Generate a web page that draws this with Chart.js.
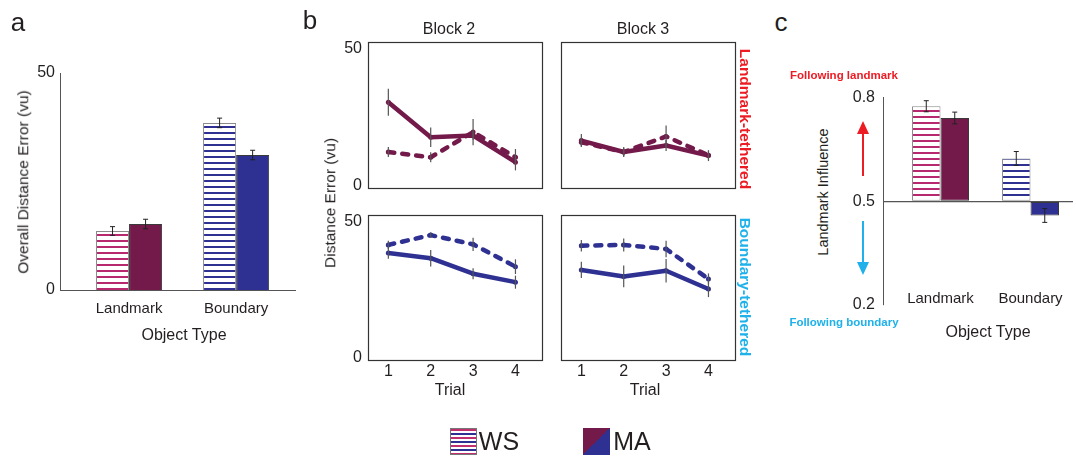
<!DOCTYPE html>
<html>
<head>
<meta charset="utf-8">
<script src="https://cdn.jsdelivr.net/npm/chart.js@4.4.0/dist/chart.umd.min.js"></script>
<style>
html, body { margin: 0; padding: 0; background: #fff; }
#fig { position: relative; width: 1076px; height: 458px; overflow: hidden; background: #fff;
       font-family: "Liberation Sans", Arial, sans-serif; color: #231f20; }
#fig canvas { position: absolute; }
.t { position: absolute; white-space: nowrap; line-height: 1; transform: translate(-50%, -50%); }
.up { transform: translate(-50%, -50%) rotate(-90deg); }
.down { transform: translate(-50%, -50%) rotate(90deg); font-weight: bold; }
.note { font-weight: bold; font-size: 11.5px; }
</style>
</head>
<body>
<div id="fig">
  <div class="t" style="left:18px;top:22px;font-size:26px">a</div>
  <div class="t" style="left:310px;top:20px;font-size:26px">b</div>
  <div class="t" style="left:781px;top:22px;font-size:26px">c</div>

  <div class="t up" style="left:23px;top:182px;font-size:15.5px">Overall Distance Error (vu)</div>
  <div class="t" style="left:184px;top:335px;font-size:16px">Object Type</div>

  <div class="t" style="left:449px;top:29px;font-size:16px">Block 2</div>
  <div class="t" style="left:643px;top:29px;font-size:16px">Block 3</div>
  <div class="t up" style="left:330px;top:203px;font-size:15.5px">Distance Error (vu)</div>
  <div class="t" style="left:450px;top:390px;font-size:16px">Trial</div>
  <div class="t" style="left:645px;top:390px;font-size:16px">Trial</div>
  <div class="t down" style="left:745px;top:119px;font-size:15.5px;color:#ed1c24">Landmark-tethered</div>
  <div class="t down" style="left:745px;top:287px;font-size:15.5px;color:#1eb1ea">Boundary-tethered</div>

  <div class="t up" style="left:823px;top:192px;font-size:14.5px">Landmark Influence</div>
  <div class="t note" style="left:844px;top:76px;color:#ed1c24">Following landmark</div>
  <div class="t note" style="left:844px;top:323px;color:#1eb1ea">Following boundary</div>
  <div class="t" style="left:988px;top:332px;font-size:16px">Object Type</div>

  <svg width="1076" height="458" style="position:absolute;left:0;top:0;pointer-events:none">
    <line x1="863" y1="176" x2="863" y2="132" stroke="#ed1c24" stroke-width="2"/>
    <polygon points="857,134 869,134 863,121" fill="#ed1c24"/>
    <line x1="863" y1="221" x2="863" y2="263" stroke="#1eb1ea" stroke-width="2"/>
    <polygon points="857,262 869,262 863,275" fill="#1eb1ea"/>
  </svg>

  <div style="position:absolute;left:450px;top:428px;width:25px;height:25px;border:1px solid #777;
       background:repeating-linear-gradient(to bottom,#c0306e 0 2px,#fff 2px 4px,#2e3192 4px 6px,#fff 6px 8px)"></div>
  <div class="t" style="left:499px;top:441px;font-size:25px">WS</div>
  <div style="position:absolute;left:583px;top:428px;width:27px;height:27px;
       background:linear-gradient(to bottom right,#731a4b 50%,#2e3192 50%)"></div>
  <div class="t" style="left:632px;top:441px;font-size:25px">MA</div>
</div>

<script>
// panel a - overall distance error
const objectTypes = ['Landmark', 'Boundary'];
const typePositions = [1, 2];
const distWS = [13.6, 38.5];
const distWS_se = [1.0, 1.1];
const distMA = [15.2, 31.1];
const distMA_se = [1.1, 1.1];
const distTicks = [0, 50];

// panel b - distance error per trial
const trials = [1, 2, 3, 4];
const trialTicks = [0, 50];
const b2LandWS = [12.2, 10.3, 19.5, 10.3];
const b2LandWS_se = [1.8, 1.8, 4.8, 3.0];
const b2LandMA = [30.4, 17.6, 18.2, 8.5];
const b2LandMA_se = [4.9, 3.6, 1.5, 3.0];
const b3LandWS = [15.8, 12.2, 17.9, 11.0];
const b3LandWS_se = [1.5, 1.5, 4.0, 1.5];
const b3LandMA = [16.4, 12.2, 14.6, 10.9];
const b3LandMA_se = [2.4, 1.8, 2.0, 2.0];
const b2BoundWS = [41.4, 45.0, 41.6, 33.4];
const b2BoundWS_se = [1.5, 1.0, 2.4, 2.7];
const b2BoundMA = [38.4, 36.5, 30.8, 27.7];
const b2BoundMA_se = [2.1, 3.0, 2.0, 2.4];
const b3BoundWS = [41.1, 41.4, 39.9, 28.9];
const b3BoundWS_se = [2.1, 2.4, 3.0, 2.0];
const b3BoundMA = [32.2, 29.8, 31.9, 25.2];
const b3BoundMA_se = [3.0, 4.0, 4.3, 3.0];

// panel c - landmark influence
const influenceWS = [0.775, 0.624];
const influenceWS_se = [0.016, 0.02];
const influenceMA = [0.741, 0.459];
const influenceMA_se = [0.017, 0.02];
const influenceTicks = [0.2, 0.5, 0.8];

const MAROON = '#731a4b', BLUE = '#2e3192', PINK = '#b8286f', INK = '#231f20';
Chart.defaults.font.family = '"Liberation Sans", Arial, sans-serif';
Chart.defaults.color = INK;

const fig = document.getElementById('fig');

function place(area, m) {
  // area = [left, top, width, height] of the plot box, m = [L, T, R, B] room around it
  const c = document.createElement('canvas');
  const w = area[2] + m[0] + m[2], h = area[3] + m[1] + m[3];
  c.width = w; c.height = h;
  c.style.cssText = `left:${area[0] - m[0]}px;top:${area[1] - m[1]}px;width:${w}px;height:${h}px`;
  fig.insertBefore(c, fig.firstChild);
  return c;
}

function stripes(color) {
  const c = document.createElement('canvas');
  c.width = 8; c.height = 6;
  const g = c.getContext('2d');
  g.fillStyle = '#fff'; g.fillRect(0, 0, 8, 6);
  g.fillStyle = color; g.fillRect(0, 0, 8, 2);
  return g.createPattern(c, 'repeat');
}

const pts = (xs, ys) => xs.map((x, i) => ({ x: x, y: ys[i] }));

const errorBars = {
  id: 'errorBars',
  afterDatasetsDraw(chart, args, opts) {
    const ctx = chart.ctx, y = chart.scales.y;
    ctx.save();
    ctx.strokeStyle = opts.color || '#222';
    ctx.lineWidth = opts.width || 1;
    chart.data.datasets.forEach((ds, i) => {
      if (!ds.errors) return;
      chart.getDatasetMeta(i).data.forEach((el, j) => {
        const v = ds.data[j].y, e = ds.errors[j];
        const y1 = y.getPixelForValue(v - e), y2 = y.getPixelForValue(v + e);
        ctx.beginPath();
        ctx.moveTo(el.x, y1); ctx.lineTo(el.x, y2);
        if (opts.cap) {
          ctx.moveTo(el.x - opts.cap, y1); ctx.lineTo(el.x + opts.cap, y1);
          ctx.moveTo(el.x - opts.cap, y2); ctx.lineTo(el.x + opts.cap, y2);
        }
        ctx.stroke();
      });
    });
    ctx.restore();
  }
};

const frame = {
  id: 'frame',
  afterDraw(chart) {
    const a = chart.chartArea, ctx = chart.ctx;
    ctx.save();
    ctx.strokeStyle = '#333';
    ctx.lineWidth = 1.2;
    ctx.strokeRect(Math.round(a.left) + 0.5, Math.round(a.top) + 0.5,
                   Math.round(a.right - a.left) - 1, Math.round(a.bottom - a.top) - 1);
    ctx.restore();
  }
};

const noGrid = { display: false, drawTicks: false };
const axisLine = { display: true, color: '#555', width: 1 };

// ---- panel a
new Chart(place([60, 73, 235, 217], [60, 73, 5, 70]), {
  type: 'bar',
  data: {
    datasets: [
      { label: 'WS', data: pts(typePositions, distWS), errors: distWS_se,
        backgroundColor: [stripes(PINK), stripes(BLUE)], borderColor: '#8a8a8a', borderWidth: 1 },
      { label: 'MA', data: pts(typePositions, distMA), errors: distMA_se,
        backgroundColor: [MAROON, BLUE], borderColor: '#3a3a3a', borderWidth: 1 }
    ]
  },
  options: {
    responsive: false, animation: false,
    layout: { padding: { left: 0, top: 73, right: 5, bottom: 0 } },
    datasets: { bar: { categoryPercentage: 0.617, barPercentage: 1 } },
    plugins: { legend: { display: false }, tooltip: { enabled: false }, errorBars: { cap: 2.5, color: '#222' } },
    scales: {
      x: { type: 'linear', min: 0.355, max: 2.55, offset: false,
           afterBuildTicks: s => { s.ticks = typePositions.map(v => ({ value: v })); },
           ticks: { callback: v => objectTypes[typePositions.indexOf(v)], padding: 10, font: { size: 15 } },
           grid: noGrid, border: axisLine, afterFit: s => { s.height = 70; } },
      y: { min: 0, max: 50,
           afterBuildTicks: s => { s.ticks = distTicks.map(v => ({ value: v })); },
           ticks: { padding: 5, font: { size: 16 } },
           grid: noGrid, border: axisLine, afterFit: s => { s.width = 60; } }
    }
  },
  plugins: [errorBars]
});

// ---- panel b
function trialChart(area, showX, showY, ws, wsSe, ma, maSe, color) {
  const m = [40, 18, 5, showX ? 24 : 18];
  new Chart(place(area, m), {
    type: 'line',
    data: {
      datasets: [
        { label: 'MA', data: pts(trials, ma), errors: maSe, borderColor: color, backgroundColor: color,
          borderWidth: 4.5, borderJoinStyle: 'round', pointRadius: 2.5, pointBorderWidth: 0 },
        { label: 'WS', data: pts(trials, ws), errors: wsSe, borderColor: color, backgroundColor: color,
          borderWidth: 4.5, borderDash: [6, 8], borderCapStyle: 'round', borderJoinStyle: 'round',
          pointRadius: 2.5, pointBorderWidth: 0 }
      ]
    },
    options: {
      responsive: false, animation: false,
      layout: { padding: { left: 0, top: m[1], right: m[2], bottom: 0 } },
      plugins: { legend: { display: false }, tooltip: { enabled: false }, errorBars: { cap: 0, color: '#555', width: 1.2 } },
      scales: {
        x: { type: 'linear', min: 0.52, max: 4.65, display: showX,
             afterBuildTicks: s => { s.ticks = trials.map(v => ({ value: v })); },
             ticks: { padding: 1, font: { size: 16 } },
             grid: noGrid, border: { display: false }, afterFit: s => { s.height = m[3]; } },
        y: { min: -1.3, max: 52.4, display: showY,
             afterBuildTicks: s => { s.ticks = trialTicks.map(v => ({ value: v })); },
             ticks: { padding: 6, font: { size: 16 } },
             grid: noGrid, border: { display: false }, afterFit: s => { s.width = m[0]; } }
      }
    },
    plugins: [frame, errorBars]
  });
}
trialChart([368, 42, 175, 147], false, true, b2LandWS, b2LandWS_se, b2LandMA, b2LandMA_se, MAROON);
trialChart([561, 42, 175, 147], false, false, b3LandWS, b3LandWS_se, b3LandMA, b3LandMA_se, MAROON);
trialChart([368, 215, 175, 146], true, true, b2BoundWS, b2BoundWS_se, b2BoundMA, b2BoundMA_se, BLUE);
trialChart([561, 215, 175, 146], true, false, b3BoundWS, b3BoundWS_se, b3BoundMA, b3BoundMA_se, BLUE);

// ---- panel c
new Chart(place([883, 97, 190, 208], [50, 17, 3, 35]), {
  type: 'bar',
  data: {
    datasets: [
      { label: 'WS', data: pts(typePositions, influenceWS), errors: influenceWS_se, base: 0.5,
        backgroundColor: [stripes(PINK), stripes(BLUE)], borderColor: '#8a8a8a', borderWidth: 1, borderSkipped: false },
      { label: 'MA', data: pts(typePositions, influenceMA), errors: influenceMA_se, base: 0.5,
        backgroundColor: [MAROON, BLUE], borderColor: '#3a3a3a', borderWidth: 1, borderSkipped: false }
    ]
  },
  options: {
    responsive: false, animation: false,
    layout: { padding: { left: 0, top: 17, right: 3, bottom: 0 } },
    datasets: { bar: { categoryPercentage: 0.633, barPercentage: 1 } },
    plugins: { legend: { display: false }, tooltip: { enabled: false }, errorBars: { cap: 2.5, color: '#222' } },
    scales: {
      x: { type: 'linear', min: 0.361, max: 2.472, offset: false,
           afterBuildTicks: s => { s.ticks = typePositions.map(v => ({ value: v })); },
           ticks: { callback: v => objectTypes[typePositions.indexOf(v)], mirror: true, padding: -3, font: { size: 15 } },
           grid: noGrid, border: { display: false }, afterFit: s => { s.height = 35; } },
      y: { min: 0.2, max: 0.8,
           afterBuildTicks: s => { s.ticks = influenceTicks.map(v => ({ value: v })); },
           ticks: { padding: 8, font: { size: 16 }, callback: v => v.toFixed(1) },
           grid: { display: true, drawTicks: false, lineWidth: 1.2,
                   color: c => (c.tick && Math.abs(c.tick.value - 0.5) < 1e-6) ? '#555' : 'rgba(0,0,0,0)' },
           border: axisLine, afterFit: s => { s.width = 50; } }
    }
  },
  plugins: [errorBars]
});
</script>
</body>
</html>
